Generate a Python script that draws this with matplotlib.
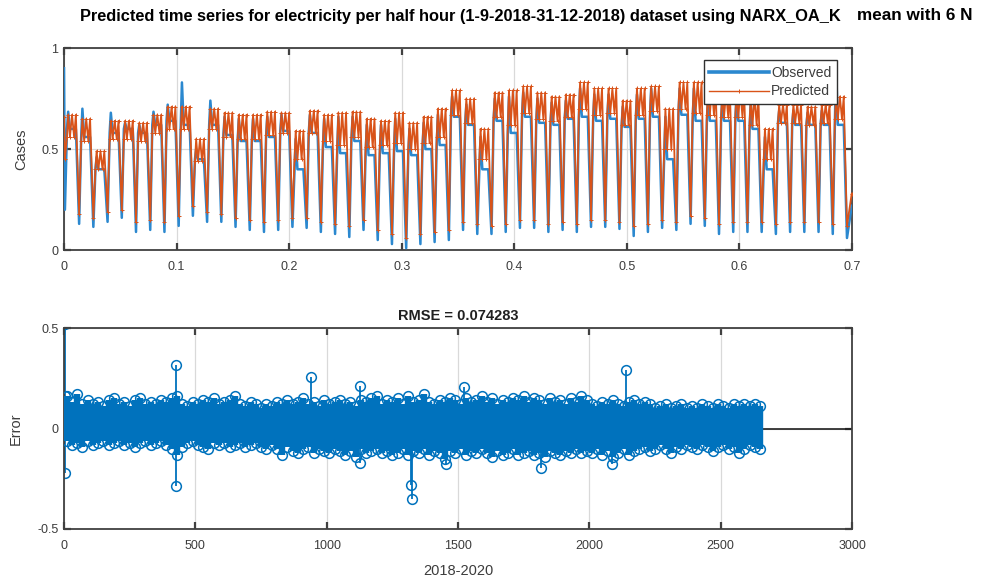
import numpy as np
import matplotlib
matplotlib.use("Agg")
import matplotlib.pyplot as plt
from matplotlib.lines import Line2D

# ---------------- data ----------------
n_samples = 2660          # half-hourly samples
x_end = 0.7               # normalised time axis of the upper panel
day_len = 48              # samples per day
first_trough = 3          # sample index of the first night minimum

obs_start, pred_start = 0.90, 0.66
obs_end, pred_end = 0.22, 0.28

# night minima (56 values, one per night)
obs_low = [0.20,
           0.13, 0.115, 0.14, 0.16, 0.09, 0.10, 0.09, 0.12, 0.17, 0.14,
           0.14, 0.115, 0.10, 0.09, 0.10, 0.115, 0.11, 0.09, 0.08, 0.065,
           0.10, 0.05, 0.03, 0.01, 0.03, 0.04, 0.05, 0.10, 0.08, 0.08,
           0.09, 0.11, 0.11, 0.09, 0.10, 0.09, 0.115, 0.115, 0.105, 0.07,
           0.09, 0.11, 0.10, 0.13, 0.12, 0.08, 0.09, 0.09, 0.09, 0.08,
           0.09, 0.09, 0.09, 0.08, 0.06]
pred_low = [0.45,
            0.18, 0.16, 0.19, 0.20, 0.14, 0.15, 0.14, 0.17, 0.22, 0.19,
            0.18, 0.16, 0.15, 0.14, 0.15, 0.16, 0.16, 0.14, 0.13, 0.12,
            0.15, 0.10, 0.08, 0.06, 0.08, 0.09, 0.10, 0.14, 0.13, 0.12,
            0.13, 0.15, 0.15, 0.13, 0.14, 0.13, 0.15, 0.15, 0.14, 0.12,
            0.13, 0.15, 0.14, 0.17, 0.16, 0.13, 0.14, 0.14, 0.14, 0.13,
            0.14, 0.14, 0.14, 0.13, 0.12]

# daytime levels (55 days)
obs_high = [0.60, 0.56, 0.40, 0.58, 0.60, 0.58, 0.62, 0.64, 0.62, 0.45,
            0.62, 0.57, 0.54, 0.54, 0.56, 0.59, 0.40, 0.58, 0.51, 0.48,
            0.54, 0.47, 0.48, 0.49, 0.47, 0.50, 0.52, 0.66, 0.62, 0.40,
            0.64, 0.58, 0.66, 0.63, 0.62, 0.65, 0.66, 0.64, 0.65, 0.61,
            0.65, 0.66, 0.45, 0.67, 0.64, 0.64, 0.64, 0.64, 0.60, 0.40,
            0.63, 0.62, 0.62, 0.62, 0.62]
obs_peak = [0.685, 0.70, 0.46, 0.68, 0.63, 0.62, 0.685, 0.72, 0.83, 0.50,
            0.74, 0.66, 0.65, 0.65, 0.66, 0.67, 0.55, 0.67, 0.65, 0.66,
            0.66, 0.62, 0.62, 0.65, 0.60, 0.63, 0.67, 0.76, 0.72, 0.56,
            0.75, 0.76, 0.78, 0.75, 0.73, 0.74, 0.80, 0.77, 0.77, 0.71,
            0.77, 0.80, 0.66, 0.80, 0.80, 0.77, 0.75, 0.76, 0.73, 0.56,
            0.69, 0.69, 0.68, 0.69, 0.92]
pred_high = [0.67, 0.65, 0.49, 0.64, 0.64, 0.63, 0.67, 0.71, 0.71, 0.55,
             0.70, 0.68, 0.67, 0.67, 0.685, 0.68, 0.59, 0.69, 0.67, 0.68,
             0.685, 0.65, 0.64, 0.68, 0.63, 0.66, 0.70, 0.79, 0.75, 0.60,
             0.78, 0.79, 0.81, 0.78, 0.76, 0.77, 0.83, 0.80, 0.80, 0.74,
             0.80, 0.81, 0.70, 0.83, 0.83, 0.80, 0.78, 0.79, 0.76, 0.60,
             0.72, 0.72, 0.71, 0.72, 0.76]
pred_mid = [0.56, 0.54, 0.40, 0.55, 0.55, 0.54, 0.58, 0.60, 0.60, 0.44,
            0.60, 0.56, 0.55, 0.55, 0.57, 0.58, 0.45, 0.58, 0.54, 0.52,
            0.56, 0.51, 0.52, 0.53, 0.50, 0.53, 0.56, 0.67, 0.63, 0.45,
            0.66, 0.62, 0.68, 0.65, 0.64, 0.66, 0.70, 0.67, 0.68, 0.62,
            0.67, 0.69, 0.50, 0.70, 0.68, 0.67, 0.66, 0.66, 0.62, 0.45,
            0.63, 0.63, 0.62, 0.63, 0.65]

# prediction error: upper / lower envelope every 20 samples (idx 10, 30, ..., 2650)
err_step = 20
err_up = [0.16, 0.13, 0.17, 0.12, 0.14, 0.12, 0.13, 0.11, 0.14, 0.15,
          0.12, 0.13, 0.11, 0.14, 0.15, 0.12, 0.13, 0.12, 0.14, 0.13,
          0.15, 0.16, 0.12, 0.11, 0.13, 0.12, 0.14, 0.13, 0.15, 0.12,
          0.13, 0.14, 0.16, 0.12, 0.11, 0.13, 0.12, 0.10, 0.12, 0.11,
          0.13, 0.12, 0.14, 0.12, 0.13, 0.15, 0.12, 0.13, 0.11, 0.14,
          0.12, 0.13, 0.14, 0.12, 0.13, 0.11, 0.14, 0.13, 0.15, 0.16,
          0.12, 0.14, 0.13, 0.15, 0.12, 0.16, 0.13, 0.14, 0.17, 0.13,
          0.12, 0.14, 0.13, 0.15, 0.14, 0.12, 0.15, 0.13, 0.14, 0.16,
          0.13, 0.15, 0.12, 0.14, 0.13, 0.15, 0.14, 0.16, 0.13, 0.15,
          0.14, 0.12, 0.15, 0.13, 0.14, 0.12, 0.15, 0.13, 0.16, 0.14,
          0.12, 0.11, 0.13, 0.12, 0.14, 0.12, 0.11, 0.13, 0.14, 0.12,
          0.13, 0.12, 0.10, 0.11, 0.12, 0.10, 0.11, 0.12, 0.10, 0.11,
          0.10, 0.12, 0.11, 0.10, 0.12, 0.11, 0.10, 0.12, 0.11, 0.12,
          0.11, 0.12, 0.11]
err_dn = [-0.06, -0.08, -0.07, -0.09, -0.06, -0.08, -0.07, -0.06, -0.08, -0.07,
          -0.06, -0.08, -0.07, -0.09, -0.07, -0.06, -0.08, -0.07, -0.06, -0.08,
          -0.10, -0.13, -0.09, -0.07, -0.06, -0.08, -0.09, -0.10, -0.07, -0.08,
          -0.07, -0.09, -0.08, -0.07, -0.09, -0.08, -0.07, -0.09, -0.10, -0.08,
          -0.10, -0.13, -0.09, -0.11, -0.12, -0.10, -0.09, -0.12, -0.10, -0.11,
          -0.12, -0.10, -0.11, -0.13, -0.11, -0.14, -0.10, -0.12, -0.11, -0.10,
          -0.12, -0.11, -0.13, -0.12, -0.10, -0.13, -0.11, -0.12, -0.10, -0.13,
          -0.11, -0.12, -0.15, -0.11, -0.12, -0.10, -0.13, -0.11, -0.12, -0.10,
          -0.12, -0.14, -0.11, -0.13, -0.12, -0.10, -0.13, -0.12, -0.11, -0.13,
          -0.12, -0.14, -0.11, -0.12, -0.13, -0.11, -0.12, -0.10, -0.12, -0.11,
          -0.12, -0.10, -0.13, -0.11, -0.14, -0.12, -0.10, -0.13, -0.11, -0.10,
          -0.09, -0.11, -0.10, -0.08, -0.10, -0.12, -0.09, -0.10, -0.08, -0.09,
          -0.10, -0.08, -0.09, -0.11, -0.09, -0.08, -0.10, -0.09, -0.12, -0.10,
          -0.08, -0.09, -0.10]
# isolated large errors
out_idx = [2, 5, 5, 425, 428, 940, 1125, 1128, 1322, 1324, 1456, 1524, 1816, 2087, 2141]
out_val = [0.52, -0.22, 0.16, 0.315, -0.285, 0.255, -0.17, 0.21, -0.28, -0.35,
           -0.175, 0.205, -0.195, -0.175, 0.29]

rmse_text = "RMSE = 0.074283"
title_main = ("Predicted time series for electricity per half hour "
              "(1-9-2018-31-12-2018) dataset using NARX_OA_K")
title_tail = "mean with 6 N"

# ---------------- build daily profiles ----------------
trough_idx = first_trough + day_len * np.arange(len(obs_low))

obs_i, obs_v = [0], [obs_start]
pred_i, pred_v = [0], [pred_start]
for k in range(len(obs_high)):
    t = trough_idx[k]
    obs_i += [t, t + 7, t + 11, t + 17, t + 37]
    obs_v += [obs_low[k], obs_high[k], obs_peak[k], obs_high[k], obs_high[k]]
    pred_i += [t, t + 7, t + 11, t + 17, t + 24, t + 31, t + 37]
    pred_v += [pred_low[k], pred_mid[k], pred_high[k], pred_mid[k],
               pred_high[k], pred_mid[k], pred_high[k]]
obs_i += [trough_idx[-1], n_samples - 1]
obs_v += [obs_low[-1], obs_end]
pred_i += [trough_idx[-1], n_samples - 1]
pred_v += [pred_low[-1], pred_end]

obs_x = np.array(obs_i) * x_end / n_samples
pred_x = np.array(pred_i) * x_end / n_samples

err_idx = 10 + err_step * np.arange(len(err_up))

# ---------------- styling ----------------
BLUE = "#0072BD"
OBS_BLUE = "#2b88cf"
ORANGE = "#D95319"
TXT = "#3c3c3c"
plt.rcParams["font.family"] = ["Liberation Sans", "DejaVu Sans"]

fig = plt.figure(figsize=(9.85, 5.79), dpi=100)
ax1 = fig.add_axes([0.065, 0.568, 0.800, 0.349])
ax2 = fig.add_axes([0.065, 0.0864, 0.800, 0.347])


def matlab_axes(ax):
    for s in ax.spines.values():
        s.set_color("#404040")
        s.set_linewidth(1.3)
    ax.tick_params(direction="in", top=True, right=True, length=5, width=1.6,
                   color="#404040", labelsize=9, labelcolor=TXT)
    ax.tick_params(axis="x", pad=8)
    ax.tick_params(axis="y", pad=4)
    ax.grid(True, color="#d9d9d9", linewidth=0.9)
    ax.set_axisbelow(True)


# ---- upper panel ----
ax1.plot(obs_x, obs_v, color=OBS_BLUE, linewidth=1.8, zorder=3)
ax1.plot(pred_x, pred_v, color=ORANGE, linewidth=1.3, marker="+", markersize=3,
         markeredgewidth=0.7, zorder=4)
ax1.set_xlim(0, 0.7)
ax1.set_ylim(0, 1)
ax1.set_xticks(np.arange(0, 0.71, 0.1))
ax1.set_xticklabels(["0", "0.1", "0.2", "0.3", "0.4", "0.5", "0.6", "0.7"])
ax1.set_yticks([0, 0.5, 1])
ax1.set_yticklabels(["0", "0.5", "1"])
ax1.set_ylabel("Cases", fontsize=10.5, color=TXT, labelpad=9)
matlab_axes(ax1)
handles = [Line2D([], [], color=OBS_BLUE, linewidth=2.6),
           Line2D([], [], color=ORANGE, linewidth=1.0, marker="+", markersize=3,
                  markeredgewidth=0.7)]
leg = ax1.legend(handles, ["Observed", "Predicted"], loc="upper right",
                 bbox_to_anchor=(0.981, 0.941), borderaxespad=0,
                 fontsize=10, handlelength=4.3, handletextpad=0.15,
                 labelspacing=0.35, borderpad=0.4, fancybox=False, framealpha=1)
leg.get_frame().set_edgecolor("#303030")
leg.get_frame().set_linewidth(1.0)
for t in leg.get_texts():
    t.set_color(TXT)

# ---- lower panel ----
ax2.axhline(0, color="#202020", linewidth=1.2, zorder=1)
for vals in (err_up, err_dn):
    cont = ax2.stem(err_idx, vals, linefmt="-", markerfmt="o", basefmt=" ")
    cont.stemlines.set_color(BLUE)
    cont.stemlines.set_linewidth(4.6)
    cont.stemlines.set_zorder(3)
    cont.markerline.set_color(BLUE)
    cont.markerline.set_markerfacecolor("none")
    cont.markerline.set_markersize(7)
    cont.markerline.set_markeredgewidth(1.1)
    cont.markerline.set_zorder(4)
cont = ax2.stem(out_idx, out_val, linefmt="-", markerfmt="o", basefmt=" ")
cont.stemlines.set_color(BLUE)
cont.stemlines.set_linewidth(1.3)
cont.markerline.set_color(BLUE)
cont.markerline.set_markerfacecolor("none")
cont.markerline.set_markersize(7)
cont.markerline.set_markeredgewidth(1.1)

ax2.set_xlim(0, 3000)
ax2.set_ylim(-0.5, 0.5)
ax2.set_xticks(np.arange(0, 3001, 500))
ax2.set_yticks([-0.5, 0, 0.5])
ax2.set_yticklabels(["-0.5", "0", "0.5"])
ax2.set_ylabel("Error", fontsize=10.5, color=TXT, labelpad=10.5)
ax2.set_xlabel("2018-2020", fontsize=10.5, color=TXT, labelpad=8.5)
ax2.set_title(rmse_text, fontsize=10.5, fontweight="bold", color="#202020", pad=6)
matlab_axes(ax2)

# ---- figure title: main part sized to span its line ----
t_main = fig.text(80 / 985, 1 - 17 / 579, title_main, fontsize=12, fontweight="bold",
                  ha="left", va="center")
fig.canvas.draw()
w_main = t_main.get_window_extent().width
main_size = 12 * 758 / w_main
t_main.set_fontsize(main_size)
fig.text(857 / 985, 1 - 16 / 579, title_tail, fontsize=main_size * 1.05,
         fontweight="bold", ha="left", va="center")

fig.savefig("out.png", dpi=100)
